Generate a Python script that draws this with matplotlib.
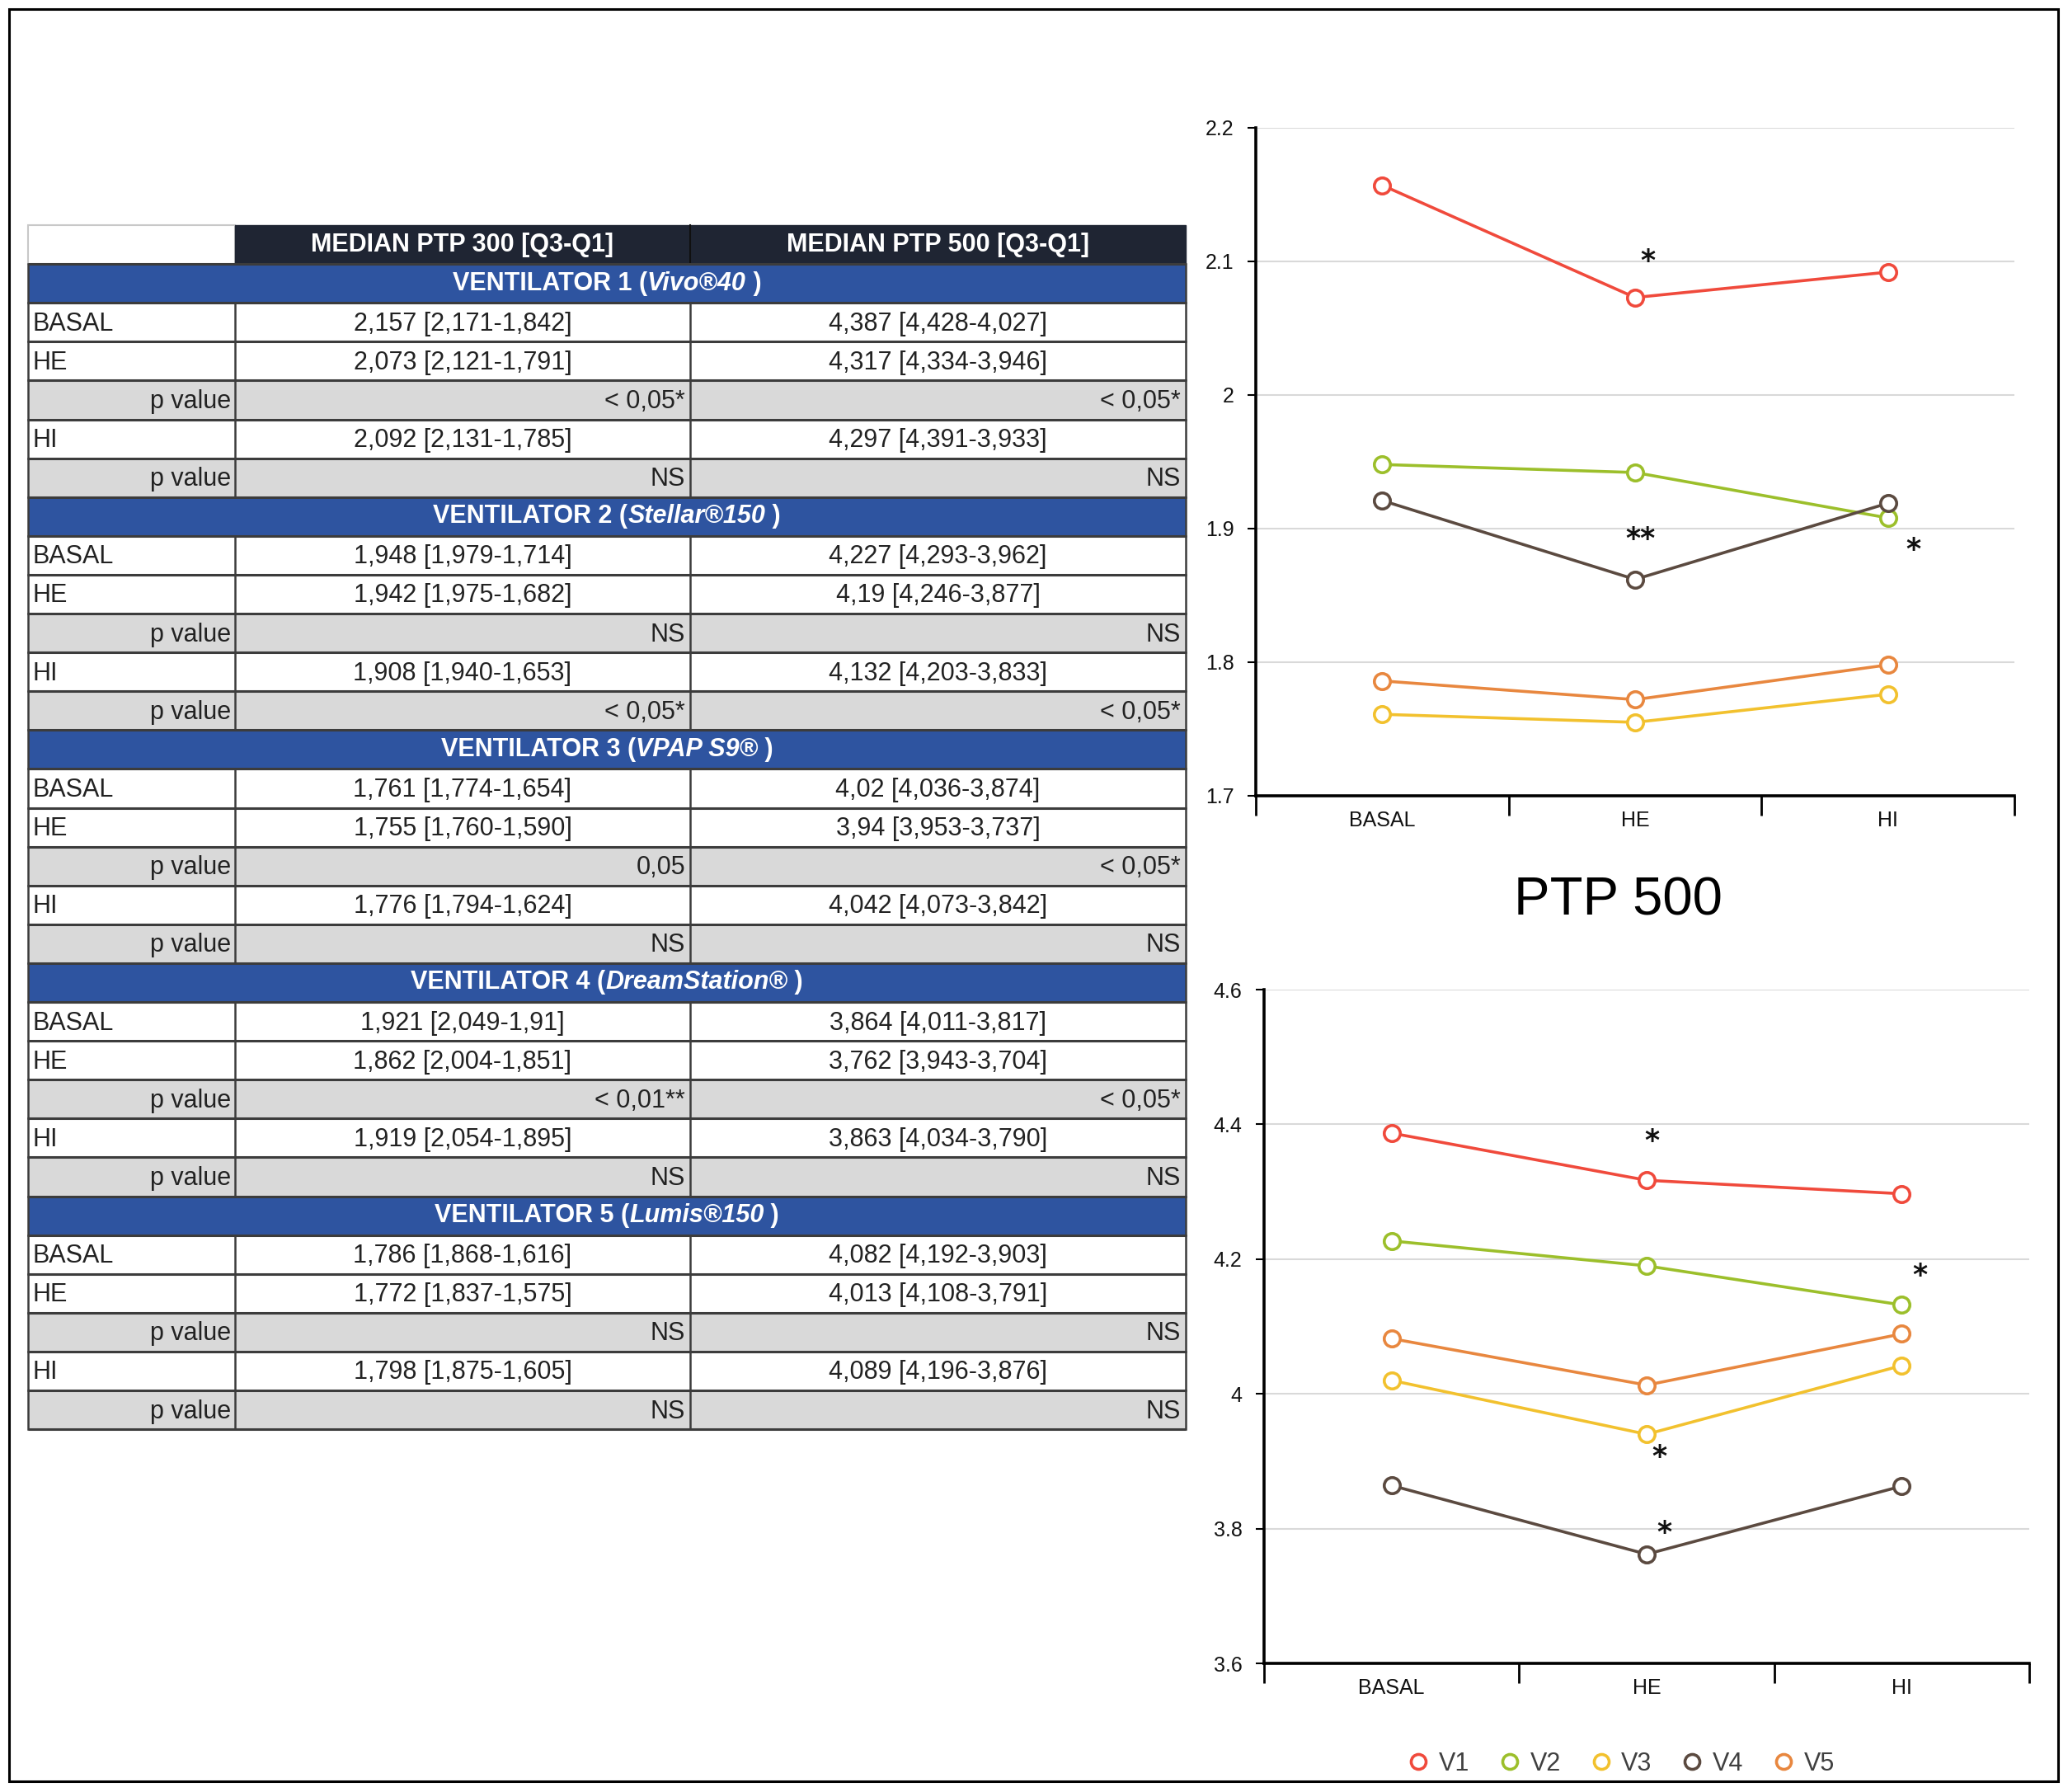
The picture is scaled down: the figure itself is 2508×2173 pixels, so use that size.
import matplotlib
matplotlib.use("Agg")
import matplotlib.pyplot as plt
from matplotlib.patches import Rectangle
from matplotlib.lines import Line2D

plt.rcParams['font.family'] = ['Liberation Sans Narrow', 'Liberation Sans', 'DejaVu Sans']

# ---- data ----
stages = ["BASAL", "HE", "HI"]
series = ["V1", "V2", "V3", "V4", "V5"]
colors = ["#f04a3c", "#9cbf2b", "#f2c12e", "#5b4a40", "#e8873f"]

ptp300_v1 = [2.157, 2.073, 2.092]
ptp300_v2 = [1.948, 1.942, 1.908]
ptp300_v3 = [1.761, 1.755, 1.776]
ptp300_v4 = [1.921, 1.862, 1.919]
ptp300_v5 = [1.786, 1.772, 1.798]

ptp500_v1 = [4.387, 4.317, 4.297]
ptp500_v2 = [4.227, 4.19, 4.132]
ptp500_v3 = [4.02, 3.94, 4.042]
ptp500_v4 = [3.864, 3.762, 3.863]
ptp500_v5 = [4.082, 4.013, 4.089]

# significance marks (x in category units, y in data units)
marks300 = [(1.05, 2.100, "*"), (1.02, 1.892, "**"), (2.10, 1.884, "*")]
marks500 = [(1.02, 4.375, "*"), (2.07, 4.175, "*"), (1.05, 3.906, "*"), (1.07, 3.794, "*")]

vent_titles = ["VENTILATOR 1", "VENTILATOR 2", "VENTILATOR 3", "VENTILATOR 4", "VENTILATOR 5"]
vent_models = ["Vivo®40", "Stellar®150", "VPAP S9®", "DreamStation®", "Lumis®150"]

tab300 = [["2,157 [2,171-1,842]", "2,073 [2,121-1,791]", "2,092 [2,131-1,785]"],
          ["1,948 [1,979-1,714]", "1,942 [1,975-1,682]", "1,908 [1,940-1,653]"],
          ["1,761 [1,774-1,654]", "1,755 [1,760-1,590]", "1,776 [1,794-1,624]"],
          ["1,921 [2,049-1,91]", "1,862 [2,004-1,851]", "1,919 [2,054-1,895]"],
          ["1,786 [1,868-1,616]", "1,772 [1,837-1,575]", "1,798 [1,875-1,605]"]]
tab500 = [["4,387 [4,428-4,027]", "4,317 [4,334-3,946]", "4,297 [4,391-3,933]"],
          ["4,227 [4,293-3,962]", "4,19 [4,246-3,877]", "4,132 [4,203-3,833]"],
          ["4,02 [4,036-3,874]", "3,94 [3,953-3,737]", "4,042 [4,073-3,842]"],
          ["3,864 [4,011-3,817]", "3,762 [3,943-3,704]", "3,863 [4,034-3,790]"],
          ["4,082 [4,192-3,903]", "4,013 [4,108-3,791]", "4,089 [4,196-3,876]"]]
pval300 = [["< 0,05*", "NS"], ["NS", "< 0,05*"], ["0,05", "NS"], ["< 0,01**", "NS"], ["NS", "NS"]]
pval500 = [["< 0,05*", "NS"], ["NS", "< 0,05*"], ["< 0,05*", "NS"], ["< 0,05*", "NS"], ["NS", "NS"]]

W, H = 2508, 2173
fig = plt.figure(figsize=(W / 100, H / 100), dpi=100)
fig.patch.set_facecolor("white")

# background layer in pixel coordinates
bg = fig.add_axes([0, 0, 1, 1])
bg.set_xlim(0, W)
bg.set_ylim(H, 0)
bg.axis("off")

# outer frame
bg.add_patch(Rectangle((11, 11), 2485, 2149, fill=False, ec="black", lw=2.2))

# ---- table ----
xs = [34, 285, 837, 1438]
y0 = 273
rh = 47.1
fs = 22
navy = "#1f2533"
blue = "#2e54a0"
grey = "#d9d9d9"
line = "#3c3c3c"

# header
bg.add_patch(Rectangle((xs[0], y0), xs[1] - xs[0], rh, fc="white", ec="#c8c8c8", lw=1.5))
bg.add_patch(Rectangle((xs[1], y0), xs[3] - xs[1], rh, fc=navy, ec=navy))
bg.text((xs[1] + xs[2]) / 2, y0 + rh / 2, "MEDIAN PTP 300 [Q3-Q1]", color="white",
        fontsize=fs, fontweight="bold", ha="center", va="center")
bg.text((xs[2] + xs[3]) / 2, y0 + rh / 2, "MEDIAN PTP 500 [Q3-Q1]", color="white",
        fontsize=fs, fontweight="bold", ha="center", va="center")
bg.plot([xs[2], xs[2]], [y0, y0 + rh], color="#101010", lw=1.5)

fig.canvas.draw()
renderer = fig.canvas.get_renderer()

row = 1
for v in range(5):
    top = y0 + row * rh
    bg.add_patch(Rectangle((xs[0], top), xs[3] - xs[0], rh, fc=blue, ec="none"))
    # title pieces: bold, bold italic, bold
    pieces = [(vent_titles[v] + " (", "normal"), (vent_models[v], "italic"), (" )", "normal")]
    tobjs = []
    for txt, st in pieces:
        t = bg.text(0, top + rh / 2, txt, color="white", fontsize=fs, fontweight="bold",
                    fontstyle=st, ha="left", va="center")
        tobjs.append(t)
    widths = [t.get_window_extent(renderer).width for t in tobjs]
    x = (xs[0] + xs[3]) / 2 - sum(widths) / 2
    for t, w in zip(tobjs, widths):
        t.set_x(x)
        x += w
    row += 1

    labels = ["BASAL", "HE", "p value", "HI", "p value"]
    vals300 = [tab300[v][0], tab300[v][1], pval300[v][0], tab300[v][2], pval300[v][1]]
    vals500 = [tab500[v][0], tab500[v][1], pval500[v][0], tab500[v][2], pval500[v][1]]
    for k in range(5):
        top = y0 + row * rh
        yc = top + rh / 2 + 2
        isp = labels[k] == "p value"
        bg.add_patch(Rectangle((xs[0], top), xs[3] - xs[0], rh,
                               fc=grey if isp else "white", ec="none"))
        if isp:
            bg.text(xs[1] - 5, yc, labels[k], fontsize=fs, ha="right", va="center", color="#222222")
            bg.text(xs[2] - 6, yc, vals300[k], fontsize=fs, ha="right", va="center", color="#222222")
            bg.text(xs[3] - 6, yc, vals500[k], fontsize=fs, ha="right", va="center", color="#222222")
        else:
            bg.text(xs[0] + 6, yc, labels[k], fontsize=fs, ha="left", va="center", color="#222222")
            bg.text((xs[1] + xs[2]) / 2, yc, vals300[k], fontsize=fs, ha="center", va="center", color="#222222")
            bg.text((xs[2] + xs[3]) / 2, yc, vals500[k], fontsize=fs, ha="center", va="center", color="#222222")
        row += 1

# grid lines of the table
for r in range(1, row + 1):
    yy = y0 + r * rh
    bg.plot([xs[0], xs[3]], [yy, yy], color=line, lw=2.2, solid_capstyle="butt")
for r in range(1, row):
    top = y0 + r * rh
    # vertical separators except on ventilator title rows
    if (r - 1) % 6 != 0:
        for xx in xs:
            bg.plot([xx, xx], [top, top + rh], color=line, lw=1.8)
    else:
        for xx in (xs[0], xs[3]):
            bg.plot([xx, xx], [top, top + rh], color=line, lw=1.8)

# ---- charts ----
def draw_chart(rect, data, ylim, yticks, ylabels, marks):
    ax = fig.add_axes(rect)
    ax.set_facecolor("none")
    for vals, c in zip(data, colors):
        ax.plot(range(3), vals, color=c, lw=2.6, marker="o", ms=14,
                mfc="white", mec=c, mew=2.6, zorder=3)
    for x, y, s in marks:
        ax.text(x, y, s, fontsize=25, fontweight="bold", ha="center", va="center",
                color="#111111", family="DejaVu Sans")
    ax.set_xlim(-0.5, 2.5)
    ax.set_ylim(*ylim)
    ax.set_yticks(yticks)
    ax.set_yticklabels(ylabels, fontsize=18, color="#111111")
    ax.yaxis.grid(True, color="#d9d9d9", lw=1.5)
    ax.set_axisbelow(True)
    ax.set_xticks([-0.5, 0.5, 1.5, 2.5])
    ax.set_xticklabels([])
    ax.set_xticks([0, 1, 2], minor=True)
    ax.set_xticklabels(stages, minor=True, fontsize=18, color="#111111")
    ax.tick_params(axis="x", which="major", length=17, width=2, direction="out")
    ax.tick_params(axis="x", which="minor", length=0, pad=13)
    ax.tick_params(axis="y", length=7, width=1.5, pad=12)
    for s in ("top", "right"):
        ax.spines[s].set_visible(False)
    ax.spines["left"].set_linewidth(2.6)
    ax.spines["bottom"].set_linewidth(2.6)
    ax.spines["left"].set_zorder(4)
    ax.spines["bottom"].set_zorder(4)
    return ax

draw_chart([1523 / W, 1 - 965 / H, 920 / W, 810 / H],
           [ptp300_v1, ptp300_v2, ptp300_v3, ptp300_v4, ptp300_v5],
           (1.7, 2.2), [1.7, 1.8, 1.9, 2.0, 2.1, 2.2],
           ["1.7", "1.8", "1.9", "2", "2.1", "2.2"], marks300)

draw_chart([1533 / W, 1 - 2017 / H, 928 / W, 817 / H],
           [ptp500_v1, ptp500_v2, ptp500_v3, ptp500_v4, ptp500_v5],
           (3.6, 4.6), [3.6, 3.8, 4.0, 4.2, 4.4, 4.6],
           ["3.6", "3.8", "4", "4.2", "4.4", "4.6"], marks500)

bg.text(1962, 1093, "PTP 500", fontsize=47, ha="center", va="center", color="black")

handles = [Line2D([], [], ls="none", marker="o", ms=13, mfc="white", mec=c, mew=2.6)
           for c in colors]
fig.legend(handles, series, loc="center", bbox_to_anchor=(1965 / W, 1 - 2139 / H),
           ncol=5, frameon=False, fontsize=22, handlelength=1.0, handletextpad=0.3,
           columnspacing=1.1, labelcolor="#404040")

fig.savefig("out.png", dpi=100)
